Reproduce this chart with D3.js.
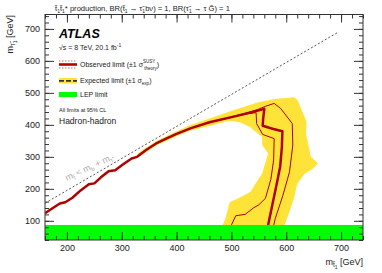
<!DOCTYPE html>
<html>
<head>
<meta charset="utf-8">
<script src="https://cdn.jsdelivr.net/npm/d3@7"></script>
<style>
body { margin: 0; background: #fff; }
svg text { font-family: "Liberation Sans", Arial, sans-serif; fill: #222; }
</style>
</head>
<body>
<div id="chart"></div>
<script>
// observed limit contour (m_stop, m_stau) in GeV
var observedLimit = [[160,124],[175,141],[187,154],[197,158],[210,172],[225,195],[240,214],[250,217],[262,236],[276,255],[288,258],[302,276],[318,295],[328,300],[345,322],[362,341],[380,356],[400,372],[425,389],[460,408],[510,428],[540,441],[560,450],[558,420],[557,397],[575,388],[593,380],[592,330],[589,270],[582,210],[574,145],[567,87],[566,70]];
// +-1 sigma theory lines
var theoryUp = [[500,425],[530,438],[548,448],[562,458],[578,467],[590,451],[611,404],[612,337],[606,253],[594,180],[580,107],[575,70]];
var theoryDown = [[500,424],[530,435],[545,438],[546,404],[557,370],[578,357],[577,290],[572,230],[562,170],[550,150],[540,140],[525,120],[508,116],[500,87],[499,70]];
// expected +-1 sigma band outline
var expectedBand = [[330,312],[362,348],[400,380],[423,398],[460,420],[502,445],[549,471],[578,481],[615,486],[621,476],[637,410],[636,372],[645,300],[658,280],[648,262],[633,246],[620,215],[614,170],[604,120],[597,87],[597,50],
  [484,50],[484,87],[489,107],[497,159],[512,170],[535,191],[544,217],[556,248],[567,311],[556,337],[556,362],[533,394],[515,408],[496,413],[470,401],[423,381],[400,364],[362,335],[330,298]];
var lepLimit = 87;
var kinLine = [[160,155],[695,690]];
var xTicks = [200,300,400,500,600,700];
var yTicks = [100,200,300,400,500,600,700];

var W = 382, H = 273;
var margin = {top: 14.5, right: 19, bottom: 33, left: 45};
var width = W - margin.left - margin.right,
    height = H - margin.top - margin.bottom;

var xScale = d3.scaleLinear().domain([160, 740]).range([0, width]);
var yScale = d3.scaleLinear().domain([40, 745]).range([height, 0]);

var svg = d3.select("#chart").append("svg")
  .attr("width", W).attr("height", H);

var g = svg.append("g")
  .attr("transform", "translate(" + margin.left + "," + margin.top + ")");

svg.append("defs").append("clipPath").attr("id", "clip")
  .append("rect").attr("width", width).attr("height", height);

var plot = g.append("g").attr("clip-path", "url(#clip)");

var lineFunction = d3.line()
  .x(function (d) { return xScale(d[0]); })
  .y(function (d) { return yScale(d[1]); });

// expected band
plot.append("path")
  .attr("d", lineFunction(expectedBand) + "Z")
  .style("fill", "#ffe338");

// kinematic line
plot.append("path")
  .attr("d", lineFunction(kinLine))
  .style("fill", "none").style("stroke", "#555")
  .style("stroke-width", 1).style("stroke-dasharray", "2,2");

// theory lines
[theoryUp, theoryDown].forEach(function (d) {
  plot.append("path")
    .attr("d", lineFunction(d))
    .style("fill", "none").style("stroke", "#b00000")
    .style("stroke-width", 1);
});

// observed
plot.append("path")
  .attr("d", lineFunction(observedLimit))
  .style("fill", "none").style("stroke", "#b00000")
  .style("stroke-width", 2.5).style("stroke-linejoin", "round");

// LEP
plot.append("rect")
  .attr("x", 0).attr("width", width)
  .attr("y", yScale(lepLimit)).attr("height", height - yScale(lepLimit))
  .style("fill", "#00ff00");

// kinematic label
svg.append("text")
  .attr("transform", "translate(67,181) rotate(-25)")
  .style("font-size", "9px").style("fill", "#aaa")
  .html('m<tspan dy="2" font-size="6">t̃</tspan><tspan dy="-2"> &lt; m</tspan><tspan dy="2" font-size="6">b</tspan><tspan dy="-2"> + m</tspan><tspan dy="2" font-size="6">τ̃</tspan>');

// axes
var xMinor = d3.range(160, 741, 20), yMinor = d3.range(40, 746, 20);
function styleAxis(sel) {
  sel.select(".domain").remove();
  sel.selectAll("line").style("stroke", "#333");
  sel.selectAll("text").style("font-size", "9px").style("fill", "#222");
}
g.append("g").attr("transform", "translate(0," + height + ")")
  .call(d3.axisBottom(xScale).tickValues(xTicks).tickSize(-8).tickPadding(5)).call(styleAxis);
g.append("g").attr("transform", "translate(0," + height + ")")
  .call(d3.axisBottom(xScale).tickValues(xMinor).tickSize(-4).tickFormat("")).call(styleAxis);
g.append("g")
  .call(d3.axisTop(xScale).tickValues(xTicks).tickSize(-8).tickFormat("")).call(styleAxis);
g.append("g")
  .call(d3.axisTop(xScale).tickValues(xMinor).tickSize(-4).tickFormat("")).call(styleAxis);
g.append("g")
  .call(d3.axisLeft(yScale).tickValues(yTicks).tickSize(-9).tickPadding(5)).call(styleAxis);
g.append("g")
  .call(d3.axisLeft(yScale).tickValues(yMinor).tickSize(-4).tickFormat("")).call(styleAxis);
g.append("g").attr("transform", "translate(" + width + ",0)")
  .call(d3.axisRight(yScale).tickValues(yTicks).tickSize(-9).tickFormat("")).call(styleAxis);
g.append("g").attr("transform", "translate(" + width + ",0)")
  .call(d3.axisRight(yScale).tickValues(yMinor).tickSize(-4).tickFormat("")).call(styleAxis);

g.append("rect").attr("width", width).attr("height", height)
  .style("fill", "none").style("stroke", "#333").style("stroke-width", 1);

// axis titles
svg.append("text")
  .attr("x", margin.left + width).attr("y", 265)
  .style("text-anchor", "end").style("font-size", "9px")
  .html('m<tspan dy="2" font-size="6.5">t̃</tspan><tspan dy="2" font-size="5">1</tspan><tspan dy="-4"> [GeV]</tspan>');
svg.append("text")
  .attr("transform", "translate(13,15) rotate(-90)")
  .style("text-anchor", "end").style("font-size", "9px")
  .html('m<tspan dy="2" font-size="6.5">τ̃</tspan><tspan dy="2" font-size="5">1</tspan><tspan dy="-4"> [GeV]</tspan>');

// title
svg.append("text")
  .attr("x", 55).attr("y", 11)
  .style("font-size", "7.6px")
  .html('t̃<tspan dy="2" font-size="5">1</tspan><tspan dy="-2">t̃</tspan><tspan dy="2" font-size="5">1</tspan><tspan dy="-2">* production, BR(t̃</tspan><tspan dy="2" font-size="5">1</tspan><tspan dy="-2"> → τ̃</tspan><tspan dy="2" font-size="5">1</tspan><tspan dy="-2">bν) = 1, BR(τ̃</tspan><tspan dy="2" font-size="5">1</tspan><tspan dy="-2"> → τ G̃) = 1</tspan>');

// legend
var lx = 59;
svg.append("text").attr("x", lx).attr("y", 38)
  .style("font-size", "12.5px").style("font-weight", "bold").style("font-style", "italic").style("fill", "#000")
  .text("ATLAS");
svg.append("text").attr("x", lx).attr("y", 50)
  .style("font-size", "7px")
  .html('√s = 8 TeV, 20.1 fb<tspan dy="-3" font-size="5">-1</tspan>');

var leg = svg.append("g");
// observed
leg.append("line").attr("x1", lx).attr("x2", lx + 18).attr("y1", 64.5).attr("y2", 64.5)
  .style("stroke", "#b00000").style("stroke-width", 2.6);
[61, 68].forEach(function (y) {
  leg.append("line").attr("x1", lx).attr("x2", lx + 18).attr("y1", y).attr("y2", y)
    .style("stroke", "#d04040").style("stroke-width", 0.8).style("stroke-dasharray", "1.5,1.5");
});
leg.append("text").attr("x", lx + 21).attr("y", 67)
  .style("font-size", "7px")
  .html('Observed limit (±1 σ<tspan dy="-4" font-size="4.5">SUSY</tspan><tspan dx="-11" dy="6.5" font-size="4.5">theory</tspan><tspan dy="-2.5">)</tspan>');
// expected
leg.append("rect").attr("x", lx).attr("y", 78).attr("width", 18).attr("height", 5.5)
  .style("fill", "#ffe338");
leg.append("line").attr("x1", lx).attr("x2", lx + 18).attr("y1", 80.8).attr("y2", 80.8)
  .style("stroke", "#333").style("stroke-width", 1.8).style("stroke-dasharray", "5,2");
leg.append("text").attr("x", lx + 21).attr("y", 83)
  .style("font-size", "7px")
  .html('Expected limit (±1 σ<tspan dy="1.8" font-size="4.5">exp</tspan><tspan dy="-1.8">)</tspan>');
// LEP
leg.append("rect").attr("x", lx).attr("y", 92).attr("width", 18).attr("height", 5)
  .style("fill", "#00ff00");
leg.append("text").attr("x", lx + 21).attr("y", 97)
  .style("font-size", "7px").text("LEP limit");

svg.append("text").attr("x", lx).attr("y", 112)
  .style("font-size", "5.5px").text("All limits at 95% CL");
svg.append("text").attr("x", lx).attr("y", 124)
  .style("font-size", "8.5px").text("Hadron-hadron");
</script>
</body>
</html>
